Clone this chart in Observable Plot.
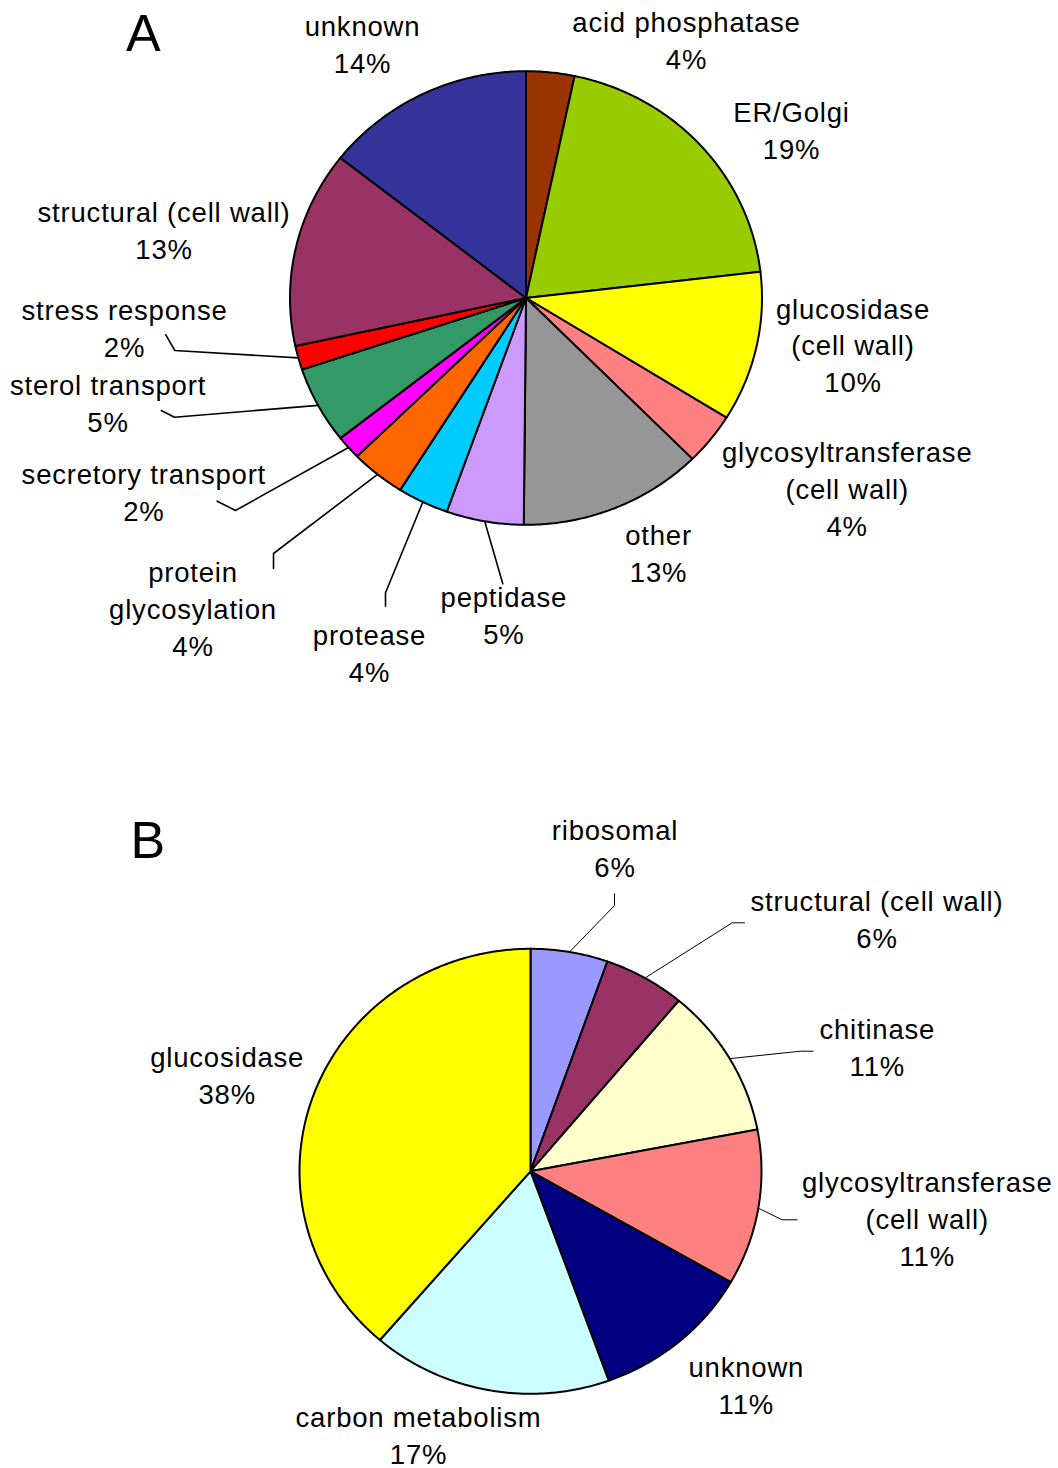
<!DOCTYPE html>
<html>
<head>
<meta charset="utf-8">
<script src="https://cdn.jsdelivr.net/npm/d3@7"></script>
<script src="https://cdn.jsdelivr.net/npm/@observablehq/plot@0.6"></script>
<style>
  html, body { margin: 0; padding: 0; background: #fff; }
  #chart svg { display: block; }
</style>
</head>
<body>
<div id="chart"></div>
<script>
// ---------------- data (panel A) ----------------
const categoriesA = [
  "acid phosphatase", "ER/Golgi", "glucosidase\n(cell wall)", "glycosyltransferase\n(cell wall)",
  "other", "peptidase", "protease", "protein\nglycosylation", "secretory transport",
  "sterol transport", "stress response", "structural (cell wall)", "unknown"
];
const sharesA = [3.3, 19.85, 10.7, 3.7, 12.6, 5.3, 3.5, 3.75, 1.7, 5.5, 1.7, 14.0, 14.4];
const percentLabelsA = ["4%", "19%", "10%", "4%", "13%", "5%", "4%", "4%", "2%", "5%", "2%", "13%", "14%"];
const colorsA = ["#993300", "#99CC00", "#FFFF00", "#FF8080", "#969696", "#CC99FF", "#00CCFF",
                 "#FF6600", "#FF00FF", "#339966", "#FF0000", "#993366", "#333399"];

// ---------------- data (panel B) ----------------
const categoriesB = [
  "ribosomal", "structural (cell wall)", "chitinase", "glycosyltransferase\n(cell wall)",
  "unknown", "carbon metabolism", "glucosidase"
];
const sharesB = [5.4, 5.7, 10.9, 11.3, 11.2, 16.8, 38.7];
const percentLabelsB = ["6%", "6%", "11%", "11%", "11%", "17%", "38%"];
const colorsB = ["#9999FF", "#993366", "#FFFFCC", "#FF8080", "#000080", "#CCFFFF", "#FFFF00"];

// ---------------- layout (pixels within each panel) ----------------
const W = 1058, H = 734;
const FONT = "'Liberation Sans', Arial, Helvetica, sans-serif";

const layoutA = {
  panel: "A", letter: [143.3, 50],
  cx: 525.5, cy: 297.5, rx: 236, ry: 226.8,
  outline: 2, leaderWidth: 1.6,
  labels: {
    "acid phosphatase": [686, 68.3],
    "ER/Golgi": [791, 158.3],
    "glucosidase\n(cell wall)": [852.5, 391.7],
    "glycosyltransferase\n(cell wall)": [846.7, 535],
    "other": [658, 581.7],
    "peptidase": [503.3, 643.3],
    "protease": [369, 681.7],
    "protein\nglycosylation": [192.5, 655],
    "secretory transport": [143.3, 520],
    "sterol transport": [107.5, 431.7],
    "stress response": [124, 356.7],
    "structural (cell wall)": [163.5, 258.3],
    "unknown": [362, 72.7]
  },
  leaders: {
    "stress response": [[165.3, 334.3], [174.3, 350]],
    "sterol transport": [[160.7, 410], [174, 416.7]],
    "secretory transport": [[216.7, 500.7], [235, 510]],
    "protein\nglycosylation": [[273, 568], [273, 553]],
    "protease": [[385, 605.7], [385, 592.3]],
    "peptidase": [[502.3, 583.3]]
  }
};

const layoutB = {
  panel: "B", letter: [147.8, 123.3],
  cx: 530, cy: 436.8, rx: 231, ry: 222.5,
  outline: 2, leaderWidth: 1,
  labels: {
    "ribosomal": [614.5, 142.7],
    "structural (cell wall)": [876.5, 213.3],
    "chitinase": [876.8, 341.7],
    "glycosyltransferase\n(cell wall)": [926.7, 531],
    "unknown": [745.8, 679.3],
    "carbon metabolism": [418, 729.3],
    "glucosidase": [226.7, 369.3]
  },
  leaders: {
    "ribosomal": [[614, 159.3], [614, 171]],
    "structural (cell wall)": [[744, 188.3], [731.7, 188.3]],
    "chitinase": [[812.7, 316.7], [800, 316.7]],
    "glycosyltransferase\n(cell wall)": [[796.7, 485.3], [781.7, 485.3]]
  }
};

// ---------------- drawing ----------------
function pie(categories, shares, percentLabels, colors, L) {
  const total = d3.sum(shares);
  let acc = 0;
  const slices = categories.map((name, i) => {
    const a0 = acc / total * 2 * Math.PI;
    acc += shares[i];
    const a1 = acc / total * 2 * Math.PI;
    return {name, a0, a1, mid: (a0 + a1) / 2, pct: percentLabels[i]};
  });
  const pt = (a) => [L.cx + L.rx * Math.sin(a), L.cy - L.ry * Math.cos(a)];

  // slice polygons: centre -> arc -> centre
  const polygons = slices.flatMap((s) => {
    const n = Math.max(2, Math.ceil((s.a1 - s.a0) / (Math.PI / 360)));
    const rows = [{name: s.name, x: L.cx, y: L.cy}];
    for (let j = 0; j <= n; ++j) {
      const [x, y] = pt(s.a0 + (s.a1 - s.a0) * j / n);
      rows.push({name: s.name, x, y});
    }
    rows.push({name: s.name, x: L.cx, y: L.cy});
    return rows;
  });

  // leader lines: label side points, then the slice's mid-arc point
  const leaders = slices.filter((s) => L.leaders[s.name]).flatMap((s) => {
    const rows = L.leaders[s.name].map(([x, y]) => ({name: s.name, x, y}));
    const [x, y] = pt(s.mid);
    rows.push({name: s.name, x, y});
    return rows;
  });

  const labels = slices.map((s) => ({
    x: L.labels[s.name][0], y: L.labels[s.name][1], text: s.name + "\n" + s.pct
  }));

  return Plot.plot({
    width: W, height: H, margin: 0,
    x: {domain: [0, W], range: [0, W], axis: null},
    y: {domain: [0, H], range: [0, H], axis: null},
    color: {domain: categories, range: colors},
    style: {background: "white", fontFamily: FONT, letterSpacing: "0.8px", overflow: "visible"},
    marks: [
      Plot.line(polygons, {x: "x", y: "y", z: "name", fill: "name", stroke: "black",
        strokeWidth: L.outline, strokeLinejoin: "round", strokeMiterlimit: 4}),
      Plot.line(leaders, {x: "x", y: "y", z: "name", stroke: "black",
        strokeWidth: L.leaderWidth, strokeLinejoin: "miter"}),
      Plot.text(labels, {x: "x", y: "y", text: "text", textAnchor: "middle", lineAnchor: "bottom",
        lineHeight: 1.335, fontSize: 27.5, fill: "black", fontFamily: FONT}),
      Plot.text([{t: L.panel, x: L.letter[0], y: L.letter[1]}], {x: "x", y: "y", text: "t",
        textAnchor: "middle", lineAnchor: "bottom", fontSize: 52, fill: "black", fontFamily: FONT})
    ]
  });
}

const root = document.getElementById("chart");
root.append(pie(categoriesA, sharesA, percentLabelsA, colorsA, layoutA));
root.append(pie(categoriesB, sharesB, percentLabelsB, colorsB, layoutB));
</script>
</body>
</html>
